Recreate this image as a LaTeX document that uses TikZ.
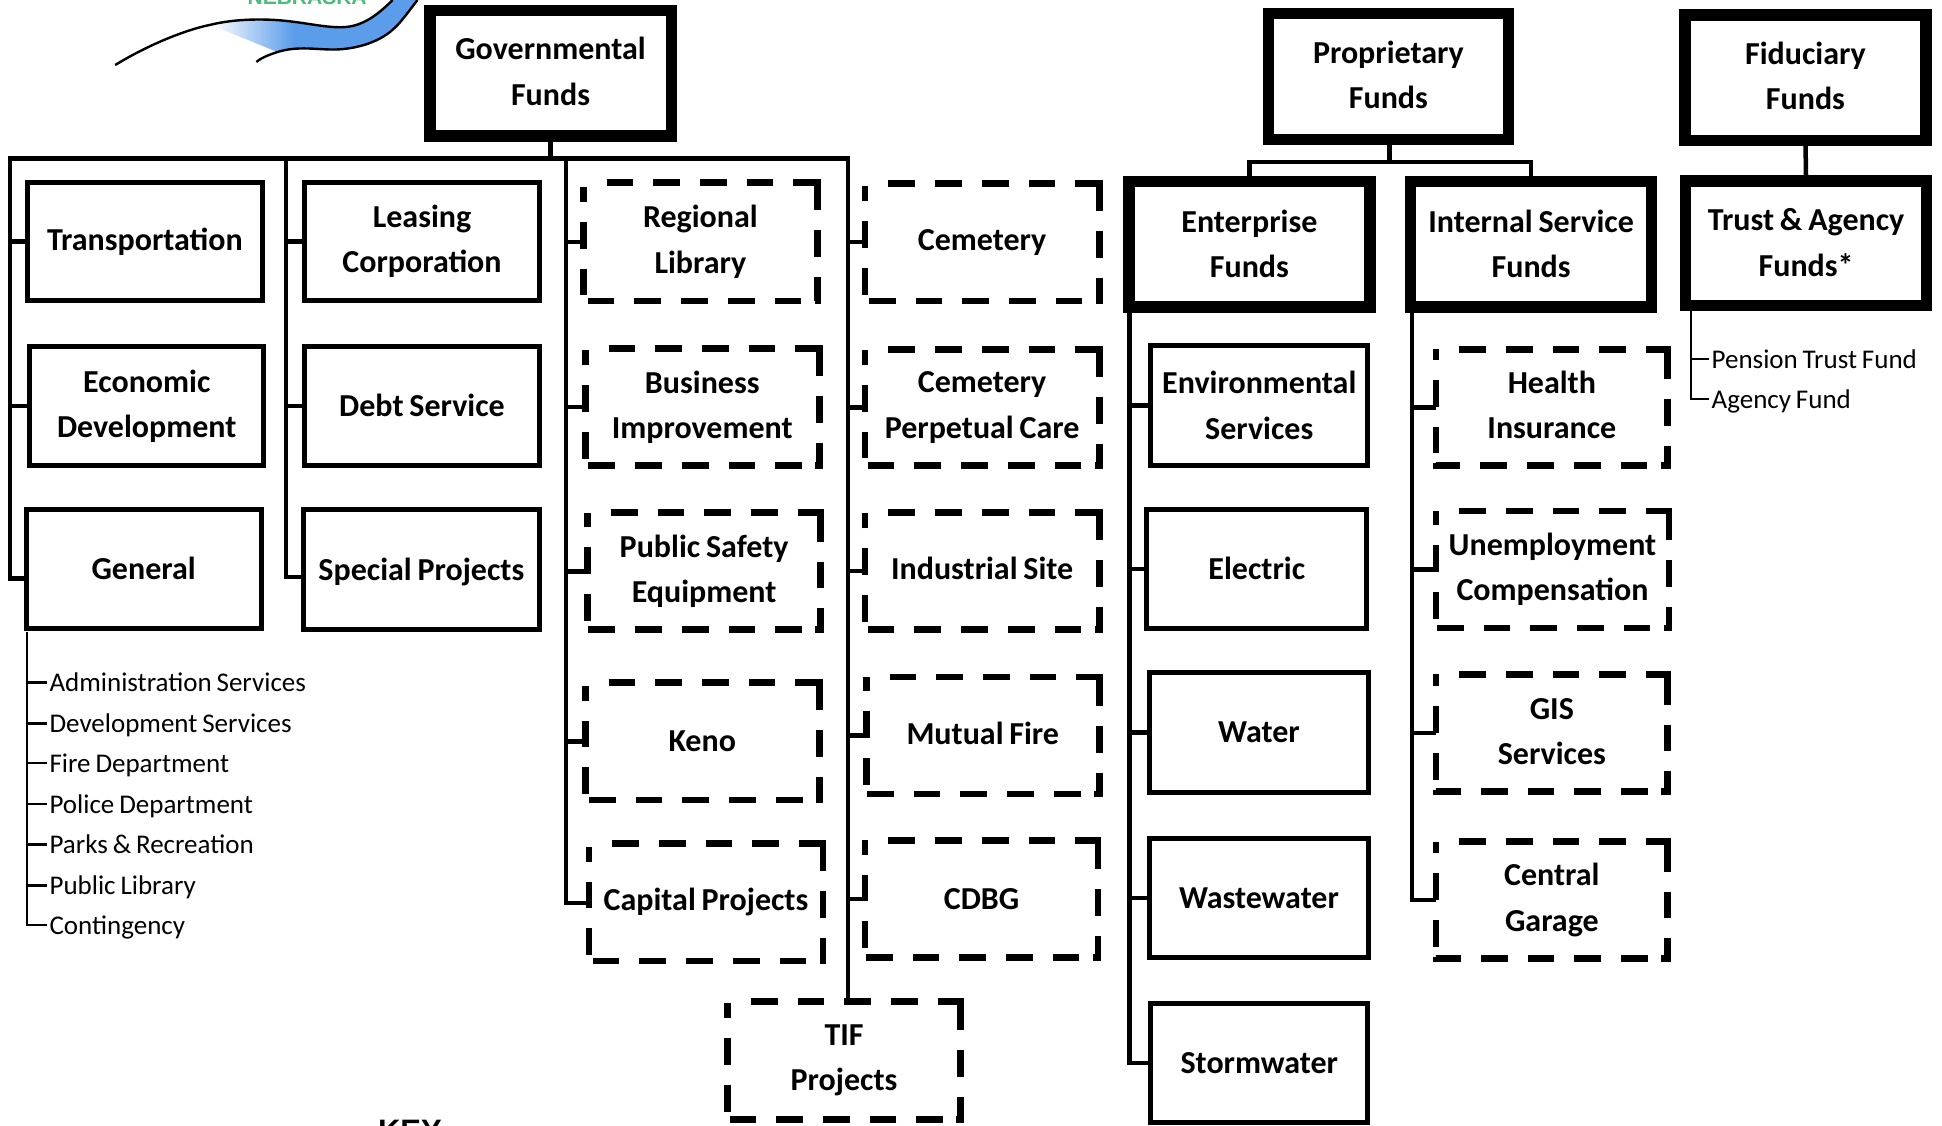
\documentclass[tikz,border=0pt]{standalone}
\usepackage{fontspec}
\setmainfont[WordSpace=0.8]{Carlito}
\newfontfamily\arialfont{Liberation Sans}
\usetikzlibrary{fit}
\definecolor{riverblue}{HTML}{5C9DEB}
\definecolor{logogreen}{HTML}{4DBB7A}
\pgfdeclarehorizontalshading{riverfade}{100bp}{color(0bp)=(white); color(25bp)=(white); color(45bp)=(riverblue); color(100bp)=(riverblue)}
\tikzset{
  fundtext/.style={inner sep=0pt,outer sep=0pt,align=center,font=\bfseries\fontsize{32}{45.5}\selectfont},
  plainbox/.style={inner sep=0pt,outer sep=0pt},
  thickbox/.style={plainbox,draw=black,line width=11.5pt},
  solidbox/.style={plainbox,draw=black,line width=5pt},
  dashline/.style={line width=6.7pt,line join=miter,line cap=butt,
    dash pattern=on 0pt off 23.3pt on 26.7pt off 20pt on 26.7pt off 20pt on 26.7pt off 20pt on 26.7pt off 20pt on 51.7pt off 20pt on 26.7pt off 20pt on 26.7pt off 13.3pt on 26.7pt off 20pt on 26.7pt off 20pt on 26.7pt off 20pt on 26.7pt off 20pt on 26.7pt off 10pt on 26.7pt off 20pt on 26.7pt off 20pt on 15pt off 30pt},
  conn/.style={line width=4.5pt,line join=miter,line cap=butt},
  thin conn/.style={line width=2.4pt,line join=miter},
  sublabel/.style={inner ysep=0pt,inner xsep=2.5pt,outer sep=0pt,anchor=west,text height=23pt,text depth=4.6pt,font=\fontsize{27}{30}\selectfont},
}
\newcommand{\tshift}{0pt}
\newcommand{\fundbox}[7]{%
  \coordinate (#2-a) at (#3,#4);\coordinate (#2-b) at (#5,#6);
  \node[fit=(#2-a)(#2-b),#1] (#2) {};
  \node[fundtext] (#2-text) at ([yshift=\tshift]#2.center) {#7};}
\newcommand{\dashfund}[6]{%
  \fundbox{plainbox}{#1}{#2}{#3}{#4}{#5}{#6}
  \draw[dashline] (#1.north west) -- (#1.north east) -- (#1.south east) -- (#1.south west) -- (#1.north west);}
\begin{document}
\begin{tikzpicture}[x=1.23852pt,y=-1.23852pt]
\useasboundingbox (0,0) rectangle (1568,908.35);
\clip (0,0) rectangle (1568,908.35);
\fill[white] (0,0) rectangle (1568,908.35);

% logo fragment
\shade[shading=riverfade]
  (170,20) .. controls (190,15) and (215,15) .. (232,17) .. controls (250,19) and (262,22) .. (275,22) .. controls (290,22) and (302,15) .. (317,0)
  -- (337,0) .. controls (328,12) and (322,20) .. (317,24) .. controls (305,35) and (285,40) .. (269,40) .. controls (255,40) and (240,37) .. (224,42) -- cycle;
\draw[line width=2.4pt,black]
  (93,52.5) .. controls (120,36) and (150,24) .. (170,20) .. controls (190,15) and (215,15) .. (232,17) .. controls (250,19) and (262,22) .. (275,22) .. controls (290,22) and (302,15) .. (317,0);
\draw[line width=2.4pt,black]
  (207,50) .. controls (212,46) and (218,44) .. (224,42) .. controls (240,37) and (255,40) .. (269,40) .. controls (285,40) and (305,35) .. (317,24) .. controls (322,20) and (328,12) .. (337,0);
\node[inner sep=0pt,anchor=base,text=logogreen,font=\arialfont\bfseries\fontsize{21}{24}\selectfont] (logotext) at (248,3.3) {NEBRASKA};

% top-level
\renewcommand{\tshift}{1.8pt}
\fundbox{thickbox}{gov}{347}{8.5}{542}{110}{Governmental\\Funds}
\fundbox{thickbox}{prop}{1024}{11}{1218}{112.5}{Proprietary\\Funds}
\fundbox{thickbox}{fid}{1360.5}{12}{1555}{113.5}{Fiduciary\\Funds}
\renewcommand{\tshift}{0.6pt}
\fundbox{thickbox}{ent}{911.5}{146.5}{1106}{248}{Enterprise\\Funds}
\fundbox{thickbox}{int}{1139}{146.5}{1333.5}{248}{Internal Service\\Funds}
\fundbox{thickbox}{trust}{1361}{146}{1555.5}{246.5}{Trust \& Agency\\Funds*}
\renewcommand{\tshift}{0pt}

% solid boxes
\fundbox{solidbox}{trans}{22}{147}{212}{243}{Transportation}
\fundbox{solidbox}{econ}{24}{280}{213}{376}{Economic\\Development}
\fundbox{solidbox}{general}{21}{411}{211}{507.5}{General}
\fundbox{solidbox}{leasing}{246}{147}{435.5}{243}{Leasing\\Corporation}
\renewcommand{\tshift}{1pt}
\fundbox{solidbox}{debt}{246}{280}{435.5}{376}{Debt Service}
\renewcommand{\tshift}{-2.4pt}
\fundbox{solidbox}{special}{245}{411}{435.5}{508}{Special Projects}
\renewcommand{\tshift}{0pt}
\fundbox{solidbox}{env}{929}{279}{1104.5}{375.5}{Environmental\\Services}
\fundbox{solidbox}{elec}{926}{411}{1103.5}{507.5}{Electric}
\fundbox{solidbox}{water}{928}{543}{1105}{639.5}{Water}
\fundbox{solidbox}{waste}{928}{677}{1105}{773}{Wastewater}
\fundbox{solidbox}{storm}{929}{810}{1104.5}{906.5}{Stormwater}

% dashed boxes
\dashfund{regional}{471}{147.5}{660}{243}{Regional\\Library}
\dashfund{business}{472.5}{281.5}{661.5}{376}{Business\\Improvement}
\dashfund{safety}{474.5}{414}{662.5}{508.5}{Public Safety\\Equipment}
\dashfund{keno}{472.5}{551}{661.5}{646}{Keno}
\dashfund{capital}{475.5}{681}{664.5}{776}{Capital Projects}
\dashfund{tif}{587.5}{808.5}{775.5}{904}{TIF\\Projects}
\dashfund{cem}{698.5}{148}{887.5}{243}{Cemetery}
\dashfund{perp}{698.5}{282}{887.5}{376}{Cemetery\\Perpetual Care}
\renewcommand{\tshift}{2.4pt}
\dashfund{ind}{698.5}{414}{887.5}{508}{Industrial Site}
\dashfund{mutual}{699.5}{546.5}{887.5}{641}{Mutual Fire}
\renewcommand{\tshift}{0pt}
\dashfund{cdbg}{698.5}{678.5}{886.5}{773}{CDBG}
\renewcommand{\tshift}{2.4pt}
\dashfund{health}{1159.5}{282}{1346.5}{376}{Health\\Insurance}
\renewcommand{\tshift}{0pt}
\dashfund{unemp}{1159.5}{412.5}{1347.5}{507}{Unemployment\\Compensation}
\renewcommand{\tshift}{1.5pt}
\dashfund{gis}{1159.5}{544.5}{1346.5}{639}{GIS\\Services}
\renewcommand{\tshift}{0pt}
\dashfund{garage}{1159.5}{679.5}{1346.5}{774}{Central\\Garage}

% governmental connectors
\coordinate (busA) at (8,128);
\coordinate (busB) at (231,128);
\coordinate (busC) at (457,128);
\coordinate (busD) at (684.5,128);
\draw[conn] (gov.south) -- (gov.south |- busA);
\draw[conn] (general.west |- 0,467) -| (busA) -- (busD) -- (tif.north -| busD);
\draw[conn] (special.west |- 0,466) -| (busB);
\draw[conn] (capital.west |- 0,729) -| (busC);
\draw[conn] (trans.west) -- (trans.west -| busA);
\draw[conn] (econ.west) -- (econ.west -| busA);
\draw[conn] (leasing.west) -- (leasing.west -| busB);
\draw[conn] (debt.west) -- (debt.west -| busB);
\draw[conn] (regional.west) -- (regional.west -| busC);
\draw[conn] (business.west) -- (business.west -| busC);
\draw[conn] (safety.west) -- (safety.west -| busC);
\draw[conn] (keno.west) -- (keno.west -| busC);
\draw[conn] (cem.west) -- (cem.west -| busD);
\draw[conn] (perp.west) -- (perp.west -| busD);
\draw[conn] (ind.west) -- (ind.west -| busD);
\draw[conn] (mutual.west) -- (mutual.west -| busD);
\draw[conn] (cdbg.west) -- (cdbg.west -| busD);

% proprietary connectors
\coordinate (busP) at (1122,131);
\draw[conn] (prop.south -| busP) -- (busP);
\draw[conn] (ent.north) |- (busP) -| (int.north);
\coordinate (trunkE) at (912,248);
\coordinate (trunkI) at (1140,248);
\draw[conn] (trunkE) |- (storm.west);
\draw[conn] (trunkI) |- (garage.west);
\draw[conn] (env.west) -- (env.west -| trunkE);
\draw[conn] (elec.west) -- (elec.west -| trunkE);
\draw[conn] (water.west) -- (water.west -| trunkE);
\draw[conn] (waste.west) -- (waste.west -| trunkE);
\draw[conn] (health.west) -- (health.west -| trunkI);
\draw[conn] (unemp.west) -- (unemp.west -| trunkI);
\draw[conn] (gis.west) -- (gis.west -| trunkI);

% fiduciary connector
\draw[conn] (fid.south) -- (trust.north);

% general sub list
\node[sublabel] (s1) at (38,551) {Administration Services};
\node[sublabel] (s2) at (38,584) {Development Services};
\node[sublabel] (s3) at (38,616) {Fire Department};
\node[sublabel] (s4) at (38,649) {Police Department};
\node[sublabel] (s5) at (38,682) {Parks \& Recreation};
\node[sublabel] (s6) at (38,715) {Public Library};
\node[sublabel] (s7) at (38,747) {Contingency};
\coordinate (trunkG) at (22,510);
\draw[thin conn] (trunkG) |- (s7.west);
\foreach \n in {s1,s2,s3,s4,s5,s6} \draw[thin conn] (trunkG |- \n.west) -- (\n.west);

% trust sub list
\node[sublabel] (t1) at (1380,290) {Pension Trust Fund};
\node[sublabel] (t2) at (1380,322) {Agency Fund};
\coordinate (trunkT) at (1365.5,250);
\draw[thin conn] (trunkT) |- (t2.west);
\draw[thin conn] (trunkT |- t1.west) -- (t1.west);

% key
\node[inner sep=0pt,anchor=base,font=\arialfont\bfseries\fontsize{31}{34}\selectfont] (key) at (331,921.5) {KEY};
\end{tikzpicture}
\end{document}
